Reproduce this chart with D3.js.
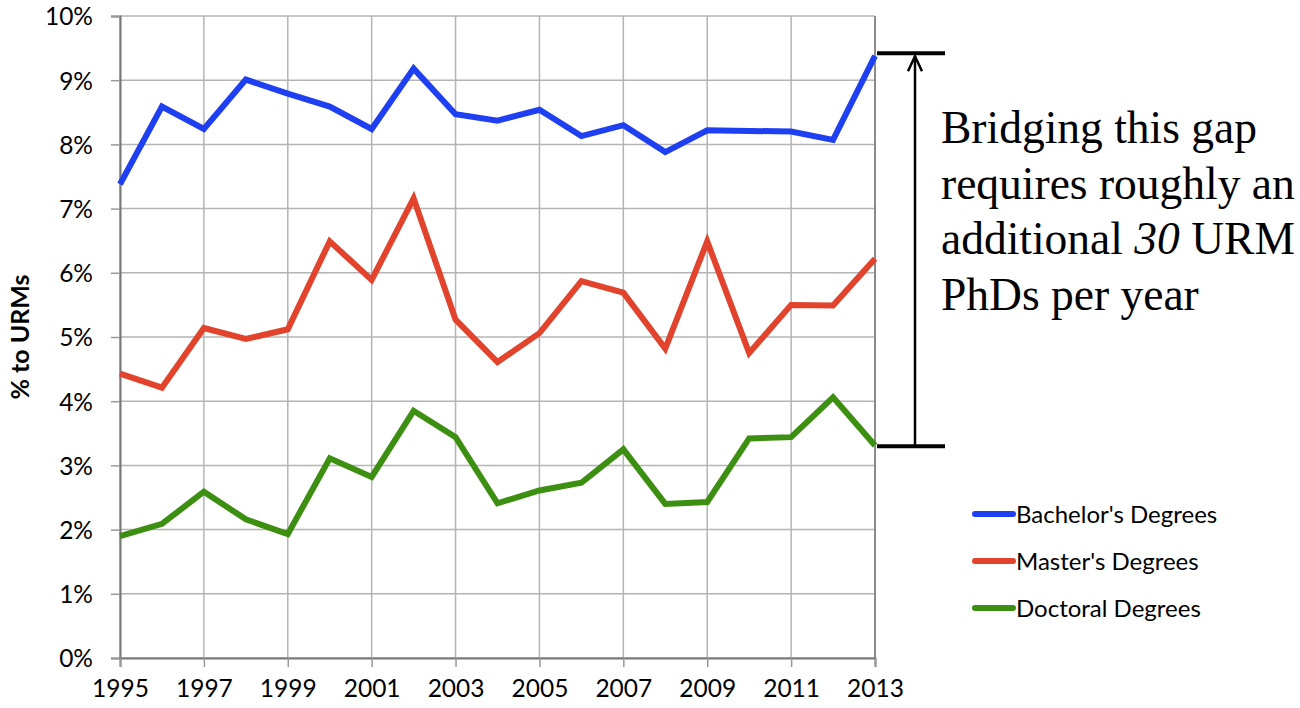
<!DOCTYPE html>
<html>
<head>
<meta charset="utf-8">
<script src="https://cdn.jsdelivr.net/npm/d3@7"></script>
<style>
  html, body { margin: 0; padding: 0; background: #fff; }
  svg { display: block; }
</style>
</head>
<body>
<svg id="chart" width="1300" height="708"></svg>
<script>
// Share of degrees awarded to under-represented minorities, by year (%)
const years = [1995, 1996, 1997, 1998, 1999, 2000, 2001, 2002, 2003, 2004,
               2005, 2006, 2007, 2008, 2009, 2010, 2011, 2012, 2013];
const bachelors = [7.38, 8.59, 8.24, 9.01, 8.79, 8.59, 8.24, 9.18, 8.47, 8.37,
                   8.54, 8.13, 8.30, 7.88, 8.22, 8.21, 8.20, 8.07, 9.38];
const masters = [4.43, 4.21, 5.14, 4.97, 5.12, 6.49, 5.89, 7.16, 5.27, 4.61,
                 5.06, 5.87, 5.69, 4.82, 6.49, 4.75, 5.50, 5.49, 6.22];
const doctoral = [1.90, 2.09, 2.59, 2.16, 1.93, 3.11, 2.82, 3.85, 3.44, 2.41,
                  2.61, 2.73, 3.25, 2.40, 2.43, 3.42, 3.44, 4.06, 3.31];

const seriesNames = ["Bachelor's Degrees", "Master's Degrees", "Doctoral Degrees"];
const seriesColors = ["#1f3ff2", "#e2432c", "#3d8f12"];
const yTicks = [0, 1, 2, 3, 4, 5, 6, 7, 8, 9, 10];
const xTicks = [1995, 1997, 1999, 2001, 2003, 2005, 2007, 2009, 2011, 2013];
const yAxisTitle = "% to URMs";

// Bracket marking the bachelor's-to-doctoral gap in the final year
const gapRange = [3.30, 9.42];
const noteLines = [
  ["Bridging this gap"],
  ["requires roughly an"],
  ["additional ", "30", " URM"],
  ["PhDs per year"]
];

const svg = d3.select("#chart");
const plot = { left: 120, right: 875, top: 16, bottom: 658 };

const x = d3.scaleLinear().domain([1995, 2013]).range([plot.left, plot.right]);
const y = d3.scaleLinear().domain([0, 10]).range([plot.bottom, plot.top]);

const sans = "Lato, 'Open Sans', sans-serif";

// Grid
const grid = svg.append("g").attr("stroke", "#b4b4b4").attr("stroke-width", 1.5);
grid.selectAll("line.h").data(yTicks).join("line")
  .attr("x1", plot.left).attr("x2", plot.right)
  .attr("y1", d => y(d)).attr("y2", d => y(d));
grid.selectAll("line.v").data(xTicks).join("line")
  .attr("x1", d => x(d)).attr("x2", d => x(d))
  .attr("y1", plot.top).attr("y2", plot.bottom);

// Right border of the plot
svg.append("line")
  .attr("x1", plot.right).attr("x2", plot.right)
  .attr("y1", plot.top).attr("y2", plot.bottom)
  .attr("stroke", "#777").attr("stroke-width", 1.5);

// Axes
const yAxis = svg.append("g")
  .attr("transform", `translate(${plot.left},0)`)
  .call(d3.axisLeft(y).tickValues(yTicks).tickFormat(d => d + "%").tickSize(9).tickPadding(18));
const xAxis = svg.append("g")
  .attr("transform", `translate(0,${plot.bottom})`)
  .call(d3.axisBottom(x).tickValues(xTicks).tickFormat(d3.format("d")).tickSize(9).tickPadding(13));

[yAxis, xAxis].forEach(ax => {
  ax.select(".domain").attr("stroke", "#777").attr("stroke-width", 2);
  ax.selectAll(".tick line").attr("stroke", "#999").attr("stroke-width", 1.5);
  ax.selectAll(".tick text")
    .attr("fill", "#000")
    .style("font-family", sans)
    .style("font-size", "24.5px");
});
yAxis.selectAll(".tick text").attr("dy", "0.36em");

// Y-axis title
svg.append("text")
  .attr("transform", `translate(29,337) rotate(-90)`)
  .attr("text-anchor", "middle")
  .style("font-family", sans)
  .style("font-size", "25px")
  .style("font-weight", "bold")
  .attr("fill", "#000")
  .text(yAxisTitle);

// Series lines
const lineGen = d3.line().x((d, i) => x(years[i])).y(d => y(d));
const allSeries = [bachelors, masters, doctoral];
svg.append("g").selectAll("path").data(allSeries).join("path")
  .attr("d", d => lineGen(d))
  .attr("fill", "none")
  .attr("stroke", (d, i) => seriesColors[i])
  .attr("stroke-width", 6)
  .attr("stroke-linejoin", "miter");

// Gap bracket with arrow
const bx = 915;
const br = svg.append("g").attr("stroke", "#000");
br.selectAll("line.cap").data(gapRange).join("line")
  .attr("x1", 877).attr("x2", 945)
  .attr("y1", d => y(d)).attr("y2", d => y(d))
  .attr("stroke-width", 4);
br.append("line")
  .attr("x1", bx).attr("x2", bx)
  .attr("y1", y(gapRange[0])).attr("y2", y(gapRange[1]) + 3)
  .attr("stroke-width", 2.5);
br.append("path")
  .attr("d", `M${bx - 7},${y(gapRange[1]) + 18} L${bx},${y(gapRange[1]) + 3} L${bx + 7},${y(gapRange[1]) + 18}`)
  .attr("fill", "none")
  .attr("stroke-width", 2.5);

// Annotation text
const note = svg.append("text")
  .style("font-family", "'Liberation Serif', 'Times New Roman', serif")
  .style("font-size", "45.5px")
  .attr("fill", "#000");
noteLines.forEach((parts, li) => {
  parts.forEach((p, pi) => {
    const t = note.append("tspan").text(p);
    if (pi === 0) t.attr("x", 941).attr("y", 143 + li * 55.5);
    if (p === "30") t.style("font-style", "italic");
  });
});

// Legend
const legend = svg.append("g");
const rows = legend.selectAll("g").data(seriesNames).join("g")
  .attr("transform", (d, i) => `translate(973,${514 + i * 47})`);
rows.append("line")
  .attr("x1", 2).attr("x2", 40)
  .attr("stroke", (d, i) => seriesColors[i])
  .attr("stroke-width", 6)
  .attr("stroke-linecap", "round");
rows.append("text")
  .attr("x", 43).attr("dy", "0.36em")
  .style("font-family", sans)
  .style("font-size", "24px")
  .attr("fill", "#000")
  .text(d => d);
</script>
</body>
</html>
